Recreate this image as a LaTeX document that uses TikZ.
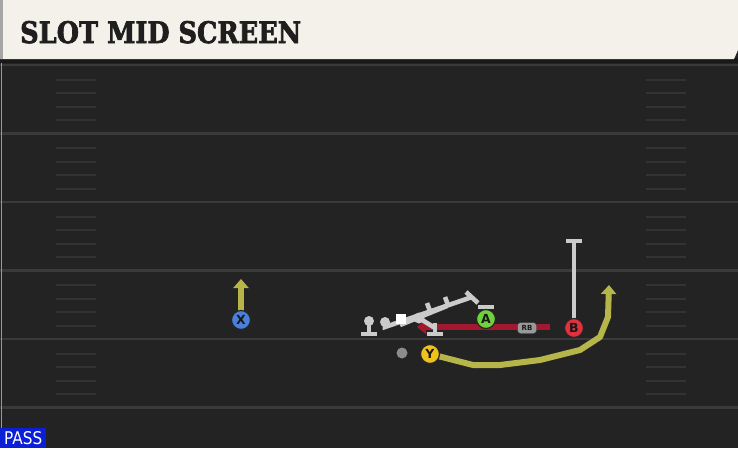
\documentclass[tikz,border=0pt]{standalone}
\usepackage{fontspec}
\setmainfont{DejaVu Serif}
\setsansfont{DejaVu Sans}
\usepackage{graphicx}
\usetikzlibrary{arrows.meta}
\definecolor{bg}{HTML}{232323}
\definecolor{yardc}{HTML}{3A3A3A}
\definecolor{hashc}{HTML}{333333}
\definecolor{cream}{HTML}{F4F1EA}
\definecolor{titlec}{HTML}{1E1E1E}
\definecolor{passblue}{HTML}{0A1FD6}
\definecolor{routey}{HTML}{B5B54A}
\definecolor{router}{HTML}{A3182E}
\definecolor{blockc}{HTML}{CBCBCB}
\definecolor{xblue}{HTML}{4A80DA}
\definecolor{agreen}{HTML}{6CD43A}
\definecolor{bred}{HTML}{E2303C}
\definecolor{yyel}{HTML}{F0C21E}
\tikzset{
  yard/.style={draw=yardc, line width=2.4pt},
  hashm/.style={draw=hashc, line width=2pt},
  player/.style={circle, draw=black!85, line width=1.2pt, minimum size=19pt, inner sep=0pt,
     font=\sffamily\bfseries\fontsize{12.5}{12.5}\selectfont, text=black!90},
  routeY/.style={draw=routey, line width=6pt, line join=round},
  routeR/.style={draw=router, line width=6pt},
  blk/.style={draw=blockc, line width=4.6pt},
  blkcap/.style={draw=blockc, line width=4.6pt},
}
\begin{document}
\begin{tikzpicture}[x=1pt,y=-1pt]
\useasboundingbox (0,0) rectangle (738,448);
\fill[bg] (0,0) rectangle (738,448);
% header
\fill[black!90] (0,58) rectangle (738,63);
\fill[cream] (0,0) -- (738,0) -- (738,50) -- (734,59) -- (0,59) -- cycle;
\fill[black!35] (0,0) rectangle (3,59);
\node[anchor=base west, inner sep=0pt, text=titlec] (title) at (20,43)
  {\resizebox{281pt}{22pt}{\addfontfeatures{FakeBold=2.5}\bfseries SLOT MID SCREEN}};
% yard lines and hash marks
\foreach \yy in {65,133.5,202,270.5,339,407.5} {
  \draw[yard] (0,\yy) -- (738,\yy);
}
\foreach \yy in {65,133.5,202,270.5,339} {
  \foreach \d in {14.5,28,41.5,55} {
    \draw[hashm] (56,\yy+\d) -- (96,\yy+\d);
    \draw[hashm] (646,\yy+\d) -- (686,\yy+\d);
  }
}
\draw[black!40, line width=1pt] (1,63) -- (1,428);
% PASS label
\fill[passblue] (0,428) rectangle (46,448);
\node[anchor=base west, inner sep=0pt, text=white] (pass) at (4,444)
  {\resizebox{38pt}{13pt}{\sffamily PASS}};
% player positions
\coordinate (Xp) at (241,320);
\coordinate (Ap) at (486,319);
\coordinate (Bp) at (574,328);
\coordinate (Yp) at (430,354);
% RB route
\coordinate (rbstart) at (550,327);
\coordinate (rbend) at (417,327);
\draw[routeR, -{Triangle[length=9pt,width=14pt]}] (rbstart) -- (rbend);
\node[draw=black!80, fill=black!40, rounded corners=3pt, inner sep=1pt, minimum width=19pt, minimum height=11pt,
  font=\sffamily\bfseries\fontsize{7}{7}\selectfont, text=black!90] (RB) at (527,328) {RB};
% X route
\coordinate (xend) at (241,279);
\draw[routeY, -{Triangle[length=9pt,width=15pt]}] (Xp) -- (xend);
% Y route
\coordinate (y1) at (473,365);
\coordinate (y2) at (500,365);
\coordinate (y3) at (540,360);
\coordinate (y4) at (580,350);
\coordinate (y5) at (600,337);
\coordinate (y6) at (608,317);
\coordinate (yend) at (609,285);
\draw[routeY, -{Triangle[length=9pt,width=15pt]}] (Yp) -- (y1) -- (y2) -- (y3) -- (y4) -- (y5) -- (y6) -- (yend);
% B block
\coordinate (btop) at (574,241);
\draw[blk] (Bp) -- (btop);
\draw[blkcap] (566,241) -- (582,241);
% A block
\draw[blk] (Ap) -- (486,307);
\draw[blkcap] (478,307) -- (494,307);
% players
\node[player, fill=xblue] (X) at (Xp) {X};
\node[player, fill=agreen] (A) at (Ap) {A};
\node[player, fill=bred] (B) at (Bp) {B};
\node[player, fill=yyel] (Y) at (Yp) {Y};
\fill[black!45] (402,353) circle (5.5pt);
% line blocks
\coordinate (l1) at (369,321);
\draw[blk] (369,321) -- (369,334);
\draw[blkcap] (361,334) -- (377,334);
\fill[blockc] (l1) circle (5pt);
\coordinate (l2) at (385,322);
\fill[blockc] (l2) circle (5pt);
\coordinate (l3a) at (472,297);
\draw[blk] (l2) -- (385,327) -- (l3a);
\draw[blkcap] (466,292) -- (478,303);
\draw[blk] (400,325) -- (447,306);
\draw[blk] (430,311) -- (427,303);
\draw[blk] (448,305) -- (445,297);
\fill[blockc] (419,318) circle (5.5pt);
\draw[blk] (419,318) -- (435,328);
\draw[blk] (435,323) -- (435,334);
\draw[blkcap] (427,334) -- (443,334);
\fill[white] (396,314) rectangle (406,324);
\end{tikzpicture}
\end{document}
